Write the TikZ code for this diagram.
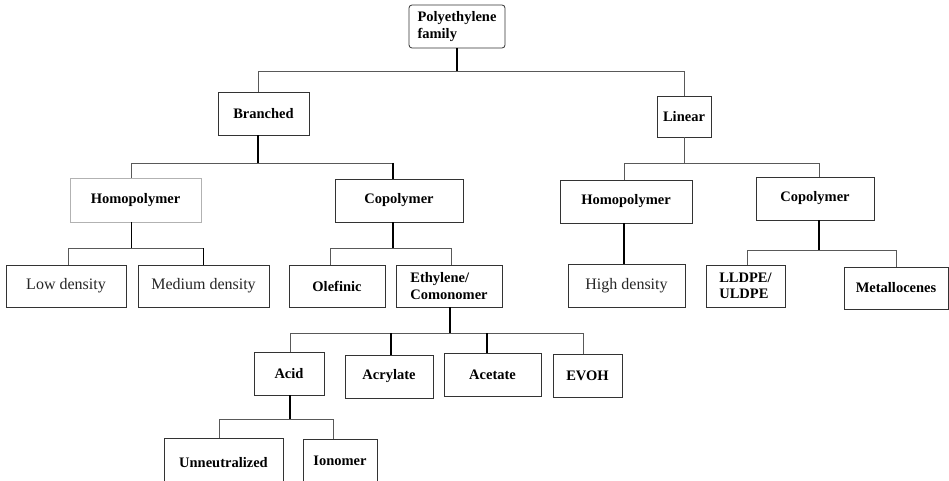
\documentclass[tikz,border=0pt]{standalone}
\usepackage{fontspec}
\setmainfont{Liberation Serif}
\begin{document}
\begin{tikzpicture}[x=1pt,y=-1pt,
 box/.style={draw=black!80, line width=0.8pt, inner sep=0pt, align=left, fill=white,
   font=\bfseries\fontsize{14.5}{16.5}\selectfont},
 reg/.style={font=\fontsize{16}{18}\selectfont, text=black!85},
 stem/.style={line width=1.6pt, black},
 bus/.style={line width=0.8pt, black!65}]
\clip (0,0) rectangle (949,481);
\fill[white] (0,0) rectangle (949,481);

% nodes
\node[box, rounded corners=3pt, minimum width=96pt, minimum height=43pt] (top) at (457,26.5) {Polyethylene\\family};
\node[box, minimum width=91pt, minimum height=43pt] (branched) at (263.5,113.5) {Branched};
\node[box, minimum width=54pt, minimum height=41pt] (linear) at (684,116.5) {Linear};

\node[box, draw=black!30, minimum width=131pt, minimum height=44pt] (homoB) at (135.5,200) {Homopolymer};
\node[box, minimum width=128pt, minimum height=43pt] (copoB) at (399,200.5) {Copolymer};
\node[box, minimum width=132pt, minimum height=43pt] (homoL) at (626,201.5) {Homopolymer};
\node[box, minimum width=118pt, minimum height=43pt] (copoL) at (815,198.5) {Copolymer};

\node[box, reg, minimum width=120pt, minimum height=42pt] (lowd) at (66,286) {Low density};
\node[box, reg, minimum width=131pt, minimum height=42pt] (medd) at (203.5,286) {Medium density};
\node[box, minimum width=96pt, minimum height=42pt] (olef) at (337,286) {Olefinic};
\node[box, minimum width=106pt, minimum height=42pt] (ethy) at (449,286) {Ethylene/\\Comonomer};
\node[box, reg, minimum width=117pt, minimum height=43pt] (highd) at (626.5,285.5) {High density};
\node[box, minimum width=79pt, minimum height=42pt] (lldpe) at (745.5,286) {LLDPE/\\ULDPE};
\node[box, minimum width=104pt, minimum height=42pt] (metal) at (896,288) {Metallocenes};

\node[box, minimum width=70pt, minimum height=43pt] (acid) at (289,373.5) {Acid};
\node[box, minimum width=88pt, minimum height=43pt] (acryl) at (389,376.5) {Acrylate};
\node[box, minimum width=97pt, minimum height=43pt] (acet) at (492.5,374.5) {Acetate};
\node[box, minimum width=69pt, minimum height=43pt] (evoh) at (587.5,375.5) {EVOH};

\node[box, minimum width=119pt, minimum height=50pt] (unneu) at (223.5,463) {Unneutralized};
\node[box, minimum width=74pt, minimum height=50pt, text depth=6pt] (iono) at (340,464) {Ionomer};

% junctions
\coordinate (j0) at (457,71);
\coordinate (j1) at (258,163);
\coordinate (j2) at (684,163);
\coordinate (j3) at (819,250);
\coordinate (j4) at (131.5,248);
\coordinate (j5) at (393,248);
\coordinate (j6) at (450,333);
\coordinate (j7) at (290,419);

% drop points
\coordinate (dBr) at ([xshift=-5.5pt]branched.north);
\coordinate (sBr) at ([xshift=-5.5pt]branched.south);
\coordinate (dHB) at ([xshift=-4pt]homoB.north);
\coordinate (sHB) at ([xshift=-4pt]homoB.south);
\coordinate (dCB) at ([xshift=-6pt]copoB.north);
\coordinate (sCB) at ([xshift=-6pt]copoB.south);
\coordinate (dHL) at ([xshift=-2pt]homoL.north);
\coordinate (sHL) at ([xshift=-2pt]homoL.south);
\coordinate (dHD) at ([xshift=-2.5pt]highd.north);
\coordinate (dCL) at ([xshift=4pt]copoL.north);
\coordinate (sCL) at ([xshift=4pt]copoL.south);
\coordinate (dLL) at ([xshift=1.5pt]lldpe.north);
\coordinate (dLD) at ([xshift=2pt]lowd.north);
\coordinate (dOl) at ([xshift=-7pt]olef.north);
\coordinate (dEt) at ([xshift=2pt]ethy.north);
\coordinate (sEt) at ([xshift=1pt]ethy.south);
\coordinate (dAc) at ([xshift=1pt]acid.north);
\coordinate (sAc) at ([xshift=1pt]acid.south);
\coordinate (dAy) at ([xshift=2pt]acryl.north);
\coordinate (dAt) at ([xshift=-5.5pt]acet.north);
\coordinate (dEV) at ([xshift=-4.5pt]evoh.north);
\coordinate (dUn) at ([xshift=-4.5pt]unneu.north);
\coordinate (dIo) at ([xshift=-7pt]iono.north);

% top
\draw[stem] (top.south) -- (j0);
\draw[bus] (j0) -| (dBr);
\draw[bus] (j0) -| (linear.north);

% branched
\draw[stem] (sBr) -- (j1);
\draw[bus] (j1) -| (dHB);
\draw[bus] (j1) -| (dCB);
\draw[stem] (j1 -| dCB) -- (dCB);

% linear
\draw[bus] (linear.south) -- (j2);
\draw[bus] (j2) -| (dHL);
\draw[bus] (j2) -| (dCL);

% linear homopolymer
\draw[stem] (sHL) -- (dHD);

% linear copolymer
\draw[stem] (sCL) -- (j3);
\draw[bus] (j3) -| (dLL);
\draw[bus] (j3) -| (metal.north);

% branched homopolymer
\draw[stem] (sHB) -- (j4);
\draw[bus] (j4) -| (dLD);
\draw[bus] (j4) -| (medd.north);
\draw[stem] (j4 -| medd.north) -- (medd.north);

% branched copolymer
\draw[stem] (sCB) -- (j5);
\draw[bus] (j5) -| (dOl);
\draw[bus] (j5) -| (dEt);

% ethylene/comonomer
\draw[stem] (sEt) -- (j6);
\draw[bus] (j6) -| (dAc);
\draw[bus] (j6) -| (dEV);
\draw[stem] (j6 -| dAy) -- (dAy);
\draw[stem] (j6 -| dAt) -- (dAt);

% acid
\draw[stem] (sAc) -- (j7);
\draw[bus] (j7) -| (dUn);
\draw[bus] (j7) -| (dIo);
\end{tikzpicture}
\end{document}
